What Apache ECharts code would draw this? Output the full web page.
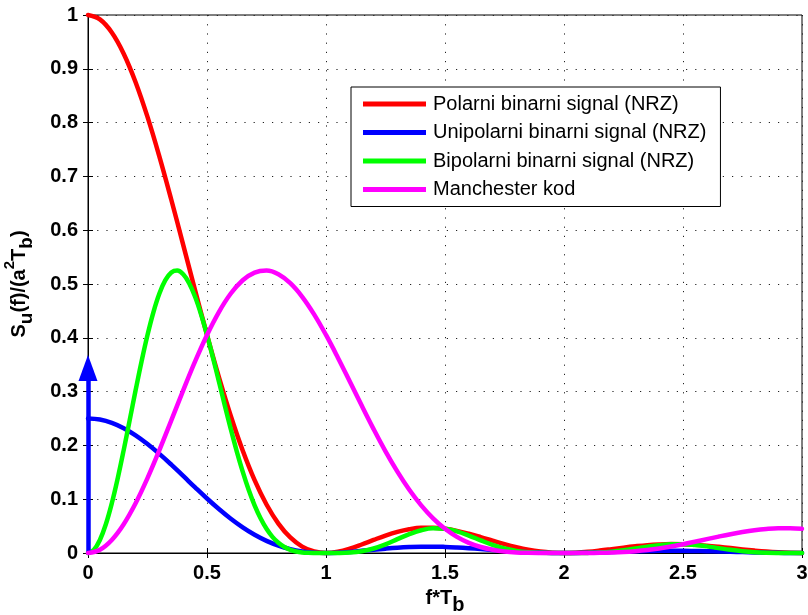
<!DOCTYPE html>
<html>
<head>
<meta charset="utf-8">
<script src="https://cdn.jsdelivr.net/npm/echarts@6/dist/echarts.min.js"></script>
<style>html,body{margin:0;padding:0;background:#fff}#c{width:808px;height:615px}</style>
</head>
<body>
<div id="c"></div>
<script>
const fTb = [0,0.05,0.1,0.15,0.2,0.25,0.3,0.35,0.4,0.45,0.5,0.55,0.6,0.65,0.7,0.75,0.8,0.85,0.9,0.95,1,
  1.05,1.1,1.15,1.2,1.25,1.3,1.35,1.4,1.45,1.5,1.55,1.6,1.65,1.7,1.75,1.8,1.85,1.9,1.95,2,
  2.05,2.1,2.15,2.2,2.25,2.3,2.35,2.4,2.45,2.5,2.55,2.6,2.65,2.7,2.75,2.8,2.85,2.9,2.95,3];
const polar = [1,0.9918,0.9675,0.9281,0.8751,0.8106,0.7368,0.6566,0.5728,0.4881,0.4053,0.3268,0.2546,0.1904,0.1353,0.0901,0.0547,0.0289,0.0119,0.0028,0,
  0.0023,0.0080,0.0158,0.0243,0.0324,0.0392,0.0441,0.0468,0.0470,0.0450,0.0411,0.0358,0.0296,0.0230,0.0165,0.0108,0.0061,0.0027,0.0007,0,
  0.0006,0.0022,0.0045,0.0072,0.0100,0.0125,0.0146,0.0159,0.0165,0.0162,0.0152,0.0136,0.0115,0.0091,0.0067,0.0045,0.0026,0.0012,0.0003,0];
const unipolar = [0.25,0.2480,0.2419,0.2320,0.2188,0.2026,0.1842,0.1642,0.1432,0.1220,0.1013,0.0817,0.0636,0.0476,0.0338,0.0225,0.0137,0.0072,0.0030,0.0007,0,
  0.0006,0.0020,0.0040,0.0061,0.0081,0.0098,0.0110,0.0117,0.0118,0.0113,0.0103,0.0090,0.0074,0.0057,0.0041,0.0027,0.0015,0.0007,0.0002,0,
  0.0002,0.0006,0.0011,0.0018,0.0025,0.0031,0.0036,0.0040,0.0041,0.0041,0.0038,0.0034,0.0029,0.0023,0.0017,0.0011,0.0006,0.0003,0.0001,0];
// bipolar is sampled more finely (0.025) over its narrow main lobe
const bipolarF = [0,0.025,0.05,0.075,0.1,0.125,0.15,0.175,0.2,0.225,0.25,0.275,0.3,0.325,0.35,0.375,0.4,0.425,0.45,0.475,0.5,
  0.525,0.55,0.575,0.6,0.625,0.65,0.675,0.7,0.725,0.75,0.775,0.8,0.825,0.85,0.875,0.9,0.925,0.95,0.975,1,
  1.05,1.1,1.15,1.2,1.25,1.3,1.35,1.4,1.45,1.5,1.55,1.6,1.65,1.7,1.75,1.8,1.85,1.9,1.95,2,
  2.05,2.1,2.15,2.2,2.25,2.3,2.35,2.4,2.45,2.5,2.55,2.6,2.65,2.7,2.75,2.8,2.85,2.9,2.95,3];
const bipolar = [0,0.0061,0.0243,0.0535,0.0924,0.1391,0.1913,0.2466,0.3024,0.3561,0.4053,0.4479,0.4823,0.5070,0.5213,0.5249,0.5181,0.5015,0.4762,0.4436,0.4053,
  0.3631,0.3188,0.2740,0.2303,0.1890,0.1512,0.1175,0.0886,0.0645,0.0450,0.0300,0.0189,0.0111,0.0060,0.0028,0.0011,0.0004,0.0001,0,0,
  0.0001,0.0008,0.0033,0.0084,0.0162,0.0257,0.0350,0.0423,0.0459,0.0450,0.0401,0.0324,0.0235,0.0150,0.0083,0.0037,0.0013,0.0003,0,0,
  0,0.0002,0.0009,0.0025,0.0050,0.0082,0.0116,0.0144,0.0161,0.0162,0.0148,0.0123,0.0091,0.0060,0.0034,0.0015,0.0005,0.0001,0,0];
const manchester = [0,0.0061,0.0243,0.0535,0.0924,0.1391,0.1913,0.2466,0.3024,0.3561,0.4053,0.4479,0.4823,0.5070,0.5213,0.5249,0.5181,0.5015,0.4762,0.4436,0.4053,
  0.3631,0.3188,0.2740,0.2303,0.1890,0.1512,0.1175,0.0886,0.0645,0.0450,0.0300,0.0189,0.0111,0.0060,0.0028,0.0011,0.0004,0.0001,0,0,
  0,0.0001,0.0003,0.0008,0.0017,0.0033,0.0055,0.0084,0.0120,0.0162,0.0208,0.0257,0.0305,0.0350,0.0390,0.0423,0.0446,0.0459,0.0460,0.0450];
// Dirac impulse of the unipolar spectrum at f=0 (drawn as an arrow)
const deltaF = [0, 0];
const deltaH = [0, 0.368];
const seriesNames = ['Polarni binarni signal (NRZ)','Unipolarni binarni signal (NRZ)','Bipolarni binarni signal (NRZ)','Manchester kod'];
const seriesColors = ['#ff0000','#0000ff','#00ff00','#ff00ff'];
const xTicks = ['0','0.5','1','1.5','2','2.5','3'];
const yTicks = ['0','0.1','0.2','0.3','0.4','0.5','0.6','0.7','0.8','0.9','1'];

const FONT = '"Liberation Sans", Arial, Helvetica, sans-serif';
const pairs = (xs, arr) => xs.map((x,i)=>[x,arr[i]]);
const seriesData = [pairs(fTb, polar), pairs(fTb, unipolar), pairs(bipolarF, bipolar), pairs(fTb, manchester)];

const chart = echarts.init(document.getElementById('c'), null, {renderer:'canvas'});
const gridLine = {show:true, lineStyle:{color:'#222', type:[1.2,8], width:1}};
const lbl = {fontFamily:FONT, fontSize:20, fontWeight:'bold', color:'#000'};

const series = seriesData.map((d,i)=>({
  name: seriesNames[i], type:'line', data: d, showSymbol:false, symbol:'none',
  smooth:0.4, clip:false, lineStyle:{color:seriesColors[i], width:4.5, join:'round', cap:'round'}, itemStyle:{color:seriesColors[i]},
  z: 2+i
}));
const arrowHeadLen = 0.024; // ~13 px of the y-scale: half the arrow head
series.push({
  name:'delta', type:'line', data:[[deltaF[0],deltaH[0]],[deltaF[1],deltaH[1]]], showSymbol:false, symbol:'none',
  lineStyle:{width:0, opacity:0}, clip:false, z:3,
  markLine:{silent:true, symbol:['none','triangle'], symbolSize:[19,26],
    label:{show:false}, lineStyle:{color:'#0000ff', width:4.5, type:'solid'},
    data:[[{coord:[deltaF[0],deltaH[0]]},{coord:[deltaF[1],deltaH[1]-arrowHeadLen]}]]}
});

chart.setOption({
  animation:false,
  backgroundColor:'#fff',
  grid:{left:88, right:6, top:15, bottom:62, show:true, borderColor:'#000', borderWidth:1, containLabel:false, outerBoundsMode:'none'},
  legend:{
    data:seriesNames, orient:'vertical', left:351, top:87,
    backgroundColor:'#fff', borderColor:'#000', borderWidth:1, padding:[7,14,7,12],
    itemWidth:63, itemHeight:5, itemGap:8.5, icon:'rect',
    textStyle:{fontFamily:FONT, fontSize:20, color:'#000', padding:[0,0,0,2]}
  },
  xAxis:[{
    type:'value', min:0, max:3, interval:0.5,
    axisLine:{show:true, onZero:false, lineStyle:{color:'#000', width:1}},
    axisTick:{show:true, inside:true, length:5, lineStyle:{color:'#000'}},
    axisLabel:Object.assign({margin:10, formatter:(v)=>xTicks[Math.round(v*2)]}, lbl),
    splitLine:gridLine,
    name:'{a|f*T}{b|b}', nameLocation:'middle', nameGap:28,
    nameTextStyle:{rich:{
      a:Object.assign({lineHeight:34, verticalAlign:'middle'}, lbl),
      b:Object.assign({}, lbl, {lineHeight:14, verticalAlign:'bottom'})
    }}
  },{
    type:'value', min:0, max:3, interval:0.5, position:'top',
    axisLine:{show:false}, axisTick:{show:true, inside:true, length:5, lineStyle:{color:'#000'}},
    axisLabel:{show:false}, splitLine:{show:false}
  }],
  yAxis:[{
    type:'value', min:0, max:1, interval:0.1,
    axisLine:{show:true, onZero:false, lineStyle:{color:'#000', width:1}},
    axisTick:{show:true, inside:true, length:5, lineStyle:{color:'#000'}},
    axisLabel:Object.assign({margin:10, formatter:(v)=>yTicks[Math.round(v*10)]}, lbl),
    splitLine:gridLine,
    name:'{a|S}{s|u}{a|(f)/(a}{p|2}{a|T}{s|b}{a|)}', nameLocation:'middle', nameGap:52, nameRotate:90,
    nameTextStyle:{rich:{
      a:Object.assign({lineHeight:34, verticalAlign:'middle'}, lbl),
      s:Object.assign({}, lbl, {fontSize:19, lineHeight:14, verticalAlign:'bottom'}),
      p:Object.assign({}, lbl, {fontSize:15, lineHeight:14, verticalAlign:'top'})
    }}
  },{
    type:'value', min:0, max:1, interval:0.1, position:'right',
    axisLine:{show:false}, axisTick:{show:true, inside:true, length:5, lineStyle:{color:'#000'}},
    axisLabel:{show:false}, splitLine:{show:false}
  }],
  series: series
});
</script>
</body>
</html>
